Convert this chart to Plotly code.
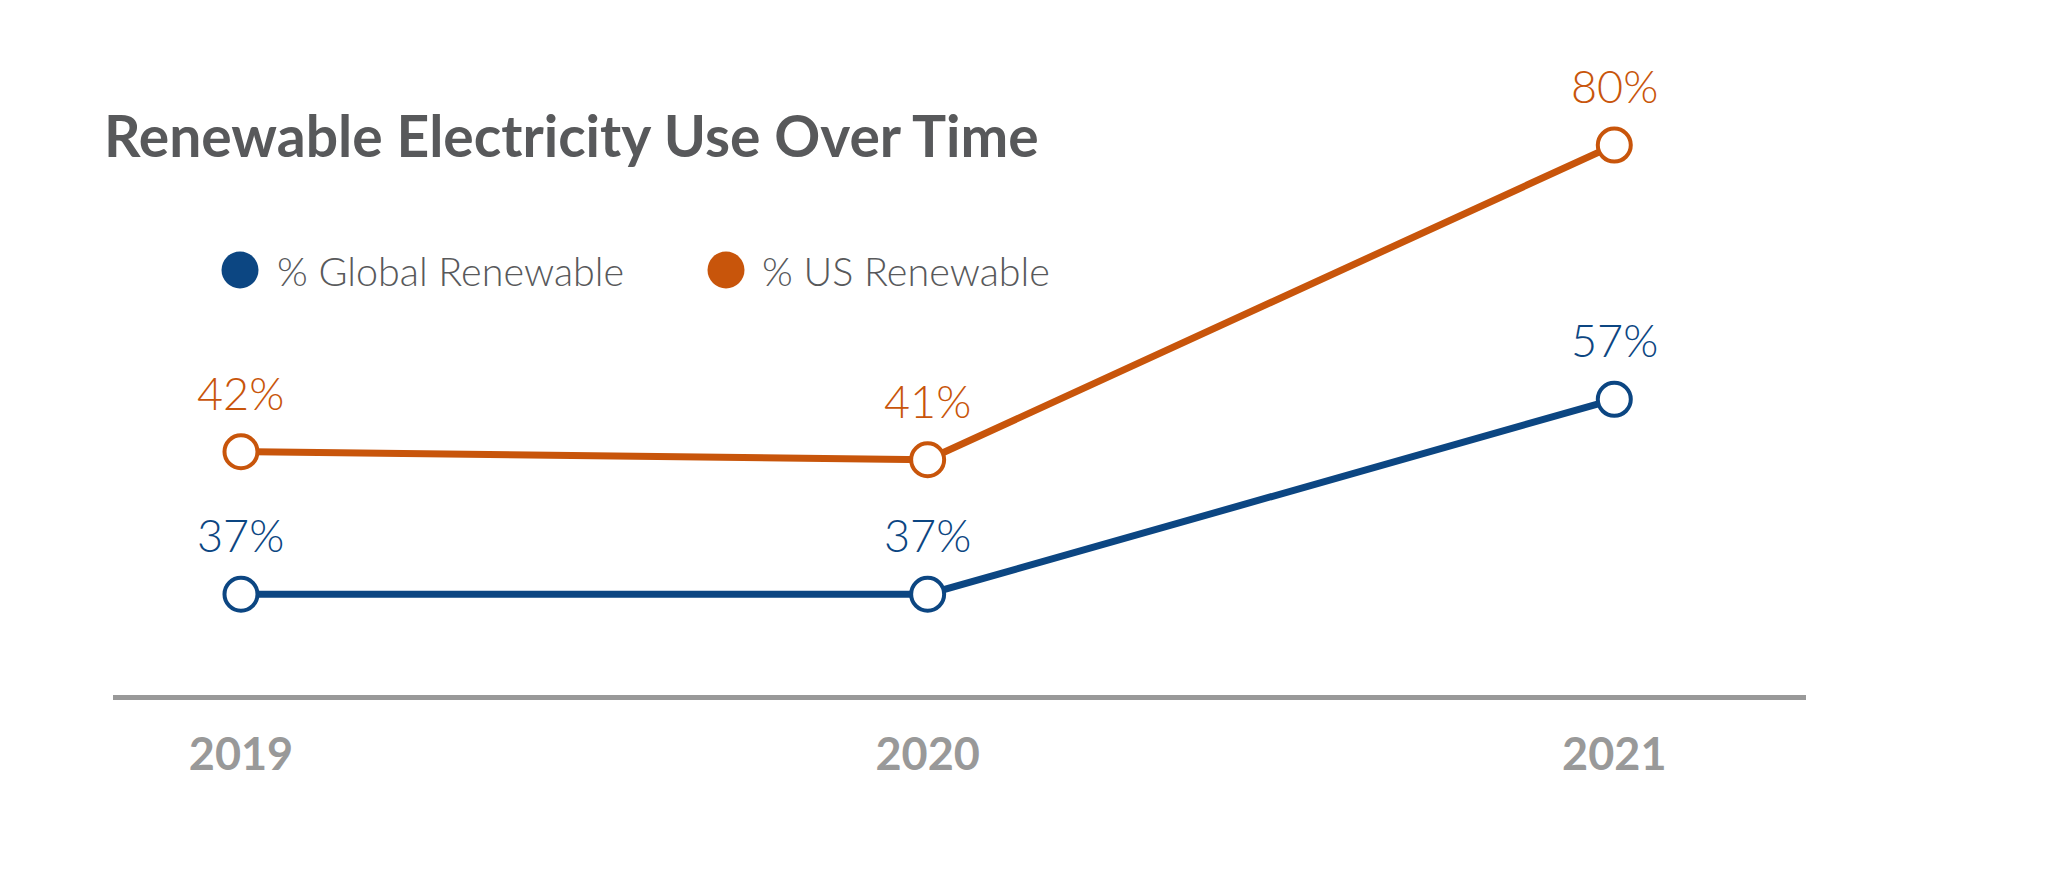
import plotly.graph_objects as go

# ---- data ----
years = ["2019", "2020", "2021"]
global_renewable = [37, 37, 57]
us_renewable = [42, 41, 80]
series_names = ["% Global Renewable", "% US Renewable"]
title_text = "Renewable Electricity Use Over Time"

# ---- style ----
BLUE = "#0c4682"
ORANGE = "#c8550b"
TITLE_GRAY = "#58595b"
AXIS_GRAY = "#999999"
OFF = 8                      # page body margin
W, H = 2047 - 2 * OFF, 885 - 2 * OFF
PX0, PX1, PY0, PY1 = 113, 1806, 40, 695   # plot area in reference pixels
L, T = PX0 - OFF, PY0 - OFF
R, B = W - (PX1 - OFF), H - (PY1 - OFF)
PW, PH = PX1 - PX0, PY1 - PY0

fig = go.Figure()

series = [
    (series_names[0], global_renewable, BLUE, "y"),
    (series_names[1], us_renewable, ORANGE, "y2"),
]

for name, vals, col, yax in series:
    fig.add_trace(go.Scatter(
        x=years, y=vals, name=name, yaxis=yax,
        mode="lines+markers",
        line=dict(color=col, width=7),
        marker=dict(size=33, color="white", line=dict(color=col, width=4)),
        showlegend=False, hoverinfo="skip",
    ))
    for i, v in enumerate(vals):
        fig.add_annotation(
            x=i, y=v, xref="x", yref=yax, text=f"{v}%",
            showarrow=False, yanchor="bottom", xanchor="center", yshift=30,
            font=dict(family="Lato", size=45, weight=300, color=col),
        )

# legend (drawn as dots + labels)
legend_items = [(series_names[0], BLUE, 240, 275), (series_names[1], ORANGE, 726, 760)]
leg_y = 270
for name, col, dot_x, text_x in legend_items:
    fig.add_shape(
        type="circle", xref="paper", yref="paper",
        xsizemode="pixel", ysizemode="pixel",
        xanchor=(dot_x - PX0) / PW, yanchor=(PY1 - leg_y) / PH,
        x0=-18.5, x1=18.5, y0=-18.5, y1=18.5,
        fillcolor=col, line=dict(width=0),
    )
    fig.add_annotation(
        x=(text_x - PX0) / PW, y=(PY1 - leg_y) / PH, xref="paper", yref="paper",
        text=name, showarrow=False, xanchor="left", yanchor="middle",
        font=dict(family="Lato", size=39.5, weight=300, color=TITLE_GRAY),
    )

fig.update_layout(
    width=W, height=H,
    margin=dict(l=L, r=R, t=T, b=B),
    paper_bgcolor="white", plot_bgcolor="white",
    title=dict(
        text=title_text, xref="container", yref="container",
        x=(104 - OFF) / W, xanchor="left", y=1 - (137.5 - OFF) / H, yanchor="middle",
        font=dict(family="Lato", size=57, weight="bold", color=TITLE_GRAY),
    ),
    xaxis=dict(
        type="category", range=[-0.1864, 2.2792],
        showline=True, linecolor=AXIS_GRAY, linewidth=4.5,
        showgrid=False, zeroline=False, ticks="",
        ticklabelstandoff=16,
        tickfont=dict(family="Lato", size=45, weight="bold", color=AXIS_GRAY),
    ),
    yaxis=dict(range=[26.66, 93.87], visible=False, fixedrange=True),
    yaxis2=dict(range=[11.85, 93.02], visible=False, overlaying="y", fixedrange=True),
    showlegend=False,
)

fig.write_html("out.html")
